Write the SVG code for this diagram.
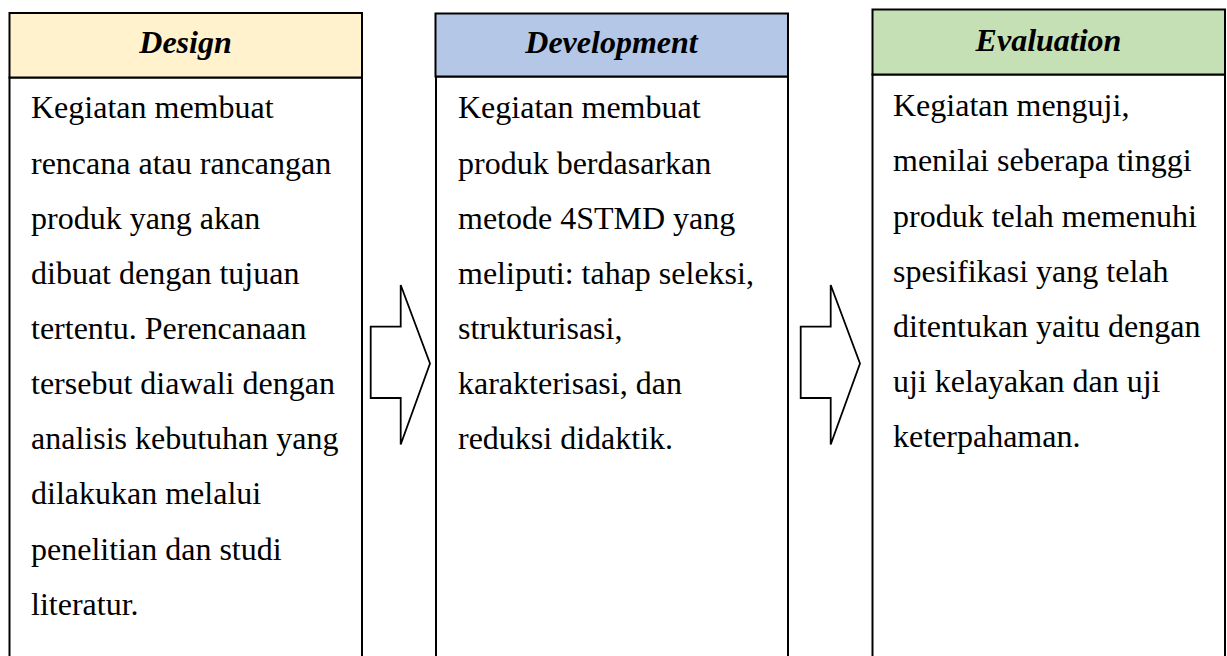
<svg xmlns="http://www.w3.org/2000/svg" width="1227" height="656" viewBox="0 0 1227 656">
<style>
.box{fill:#ffffff;stroke:#000;stroke-width:2}
.hd{stroke:#000;stroke-width:2}
.ht{font-family:"Liberation Serif","Times New Roman",serif;font-size:32px;font-weight:bold;font-style:italic;text-anchor:middle;fill:#000}
.bt{font-family:"Liberation Serif","Times New Roman",serif;font-size:32px;fill:#000}
.arr{fill:#fff;stroke:#000;stroke-width:1.8;stroke-linejoin:miter}
</style>
<rect width="1227" height="656" fill="#fff"/>
<g id="design">
<rect class="box" x="9.5" y="77.5" width="352.5" height="600"/>
<rect class="hd" x="9.5" y="13" width="352.5" height="64.5" fill="#FFF2CC"/>
<text class="ht" x="185.5" y="52.5">Design</text>
<g class="bt">
<text x="31" y="118.3">Kegiatan membuat</text>
<text x="31" y="173.5">rencana atau rancangan</text>
<text x="31" y="228.6">produk yang akan</text>
<text x="31" y="283.8">dibuat dengan tujuan</text>
<text x="31" y="338.9">tertentu. Perencanaan</text>
<text x="31" y="394">tersebut diawali dengan</text>
<text x="31" y="449.2">analisis kebutuhan yang</text>
<text x="31" y="504.3">dilakukan melalui</text>
<text x="31" y="559.5">penelitian dan studi</text>
<text x="31" y="614.7">literatur.</text>
</g>
</g>
<g id="development">
<rect class="box" x="436" y="76.5" width="352" height="600"/>
<rect class="hd" x="435.5" y="13.5" width="352.5" height="63" fill="#B4C7E7"/>
<text class="ht" x="611.5" y="53">Development</text>
<g class="bt">
<text x="458" y="118.3">Kegiatan membuat</text>
<text x="458" y="173.5">produk berdasarkan</text>
<text x="458" y="228.6">metode 4STMD yang</text>
<text x="458" y="283.8">meliputi: tahap seleksi,</text>
<text x="458" y="338.9">strukturisasi,</text>
<text x="458" y="394">karakterisasi, dan</text>
<text x="458" y="449.2">reduksi didaktik.</text>
</g>
</g>
<g id="evaluation">
<rect class="box" x="872.5" y="74.5" width="352.5" height="600"/>
<rect class="hd" x="872.5" y="9.5" width="352.5" height="65" fill="#C5E0B4"/>
<text class="ht" x="1048.5" y="50.8">Evaluation</text>
<g class="bt">
<text x="893" y="116.2">Kegiatan menguji,</text>
<text x="893" y="171.4">menilai seberapa tinggi</text>
<text x="893" y="226.6">produk telah memenuhi</text>
<text x="893" y="281.7">spesifikasi yang telah</text>
<text x="893" y="336.8">ditentukan yaitu dengan</text>
<text x="893" y="392">uji kelayakan dan uji</text>
<text x="893" y="447.1">keterpahaman.</text>
</g>
</g>
<g id="connectors">
<polygon class="arr" points="370.7,326.7 400.7,326.7 400.7,285 430,363.5 400.7,444.5 400.7,398 370.7,398"/>
<polygon class="arr" points="800.7,326.7 830.7,326.7 830.7,285 860,363.5 830.7,444.5 830.7,398 800.7,398"/>
</g>
</svg>
